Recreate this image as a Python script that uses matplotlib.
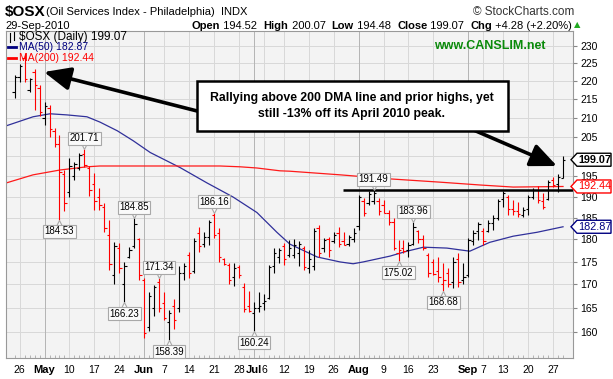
import matplotlib
matplotlib.use("Agg")
import matplotlib.pyplot as plt
import numpy as np
import pandas as pd
from matplotlib import font_manager
from matplotlib.patches import Polygon, Rectangle
from matplotlib.transforms import IdentityTransform, offset_copy
from matplotlib.ticker import NullLocator

plt.rcParams['font.family'] = ['Liberation Sans', 'DejaVu Sans']
installed = {f.name for f in font_manager.fontManager.ttflist}
NARROW = 'Liberation Sans Narrow' in installed

# trading days shown on the chart
holidays = ['2010-05-31', '2010-07-05', '2010-09-06']
dates = pd.bdate_range('2010-04-23', '2010-09-29', freq='C', holidays=holidays)

opens = [217.0, 221.0, 226.5, 217.5, 222.5, 218.0, 210.0, 212.5, 206.5, 203.0,
         195.5, 191.0, 195.0, 197.0, 200.5, 197.0, 193.0, 190.0, 187.5, 181.0,
         172.0, 178.0, 170.0, 176.0, 178.5, 180.0, 171.0, 161.0, 165.0, 170.5,
         166.0, 162.0, 165.5, 165.0, 172.5, 176.5, 173.0, 181.5, 179.0, 180.5,
         185.5, 181.5, 175.5, 174.3, 171.5, 173.8, 169.5, 165.5, 164.0, 165.0,
         166.0, 167.0, 174.0, 176.0, 178.5, 176.5, 176.5, 177.0, 178.0, 173.5,
         174.0, 182.5, 178.0, 180.0, 179.5, 181.5, 179.5, 179.0, 180.0, 183.0,
         189.0, 188.5, 189.0, 189.0, 188.0, 186.0, 184.0, 177.0, 178.0, 177.5,
         179.0, 181.8, 180.0, 176.5, 175.0, 173.0, 170.0, 172.5, 170.5, 175.5,
         171.0, 172.0, 179.5, 182.0, 182.0, 182.0, 183.8, 185.0, 189.5, 190.0,
         187.0, 186.5, 185.5, 187.0, 190.0, 191.5, 189.0, 189.5, 194.0, 193.0,
         194.52]
highs = [221.7, 224.8, 228.0, 220.8, 223.2, 218.8, 214.1, 213.3, 207.2, 205.4,
         196.5, 199.5, 198.5, 200.8, 201.71, 197.5, 195.8, 192.1, 188.4, 184.5,
         179.4, 179.2, 175.0, 178.3, 184.85, 180.4, 171.4, 168.3, 169.9, 171.34,
         168.3, 164.5, 166.8, 174.0, 174.7, 177.2, 180.4, 182.8, 181.7, 184.5,
         186.16, 182.6, 175.8, 174.7, 174.7, 174.2, 170.4, 168.5, 166.2, 168.3,
         168.0, 174.2, 178.0, 178.0, 179.2, 179.9, 180.0, 179.5, 178.5, 177.6,
         182.6, 183.3, 180.4, 180.6, 181.7, 182.8, 181.7, 181.0, 182.6, 190.4,
         189.7, 191.3, 191.49, 189.7, 189.2, 186.8, 185.0, 179.9, 179.9, 179.4,
         183.96, 182.2, 181.0, 176.8, 175.5, 176.0, 174.7, 173.6, 176.0, 176.8,
         174.7, 180.4, 182.2, 184.0, 182.6, 184.5, 185.6, 189.5, 191.3, 190.4,
         189.2, 188.8, 187.5, 190.4, 192.1, 192.5, 190.8, 194.0, 194.7, 195.6,
         200.07]
lows = [215.2, 219.7, 219.7, 216.9, 212.0, 210.3, 207.9, 205.0, 202.4, 184.53,
        186.6, 190.0, 194.0, 196.5, 197.2, 190.2, 186.8, 186.8, 181.7, 173.2,
        170.0, 172.5, 166.23, 175.7, 178.0, 171.0, 158.9, 160.3, 163.3, 164.1,
        162.6, 158.39, 160.6, 164.1, 171.0, 171.4, 172.5, 177.2, 178.3, 178.8,
        180.4, 175.0, 174.2, 170.0, 169.6, 171.4, 164.1, 164.1, 160.24, 164.2,
        164.5, 166.8, 172.5, 174.7, 174.2, 176.0, 175.8, 174.0, 173.2, 172.5,
        173.2, 176.0, 177.2, 176.0, 179.2, 178.3, 178.6, 178.4, 179.4, 182.2,
        185.4, 188.0, 188.2, 185.6, 186.0, 183.3, 177.6, 175.02, 177.0, 176.0,
        178.8, 179.2, 177.6, 171.6, 172.0, 170.6, 168.68, 169.4, 169.2, 169.4,
        170.0, 171.6, 178.8, 179.9, 178.8, 181.7, 182.2, 184.5, 187.5, 185.6,
        185.6, 185.2, 185.2, 185.6, 189.5, 188.5, 187.0, 189.2, 192.3, 191.1,
        194.48]
closes = [221.0, 224.3, 220.5, 220.6, 218.8, 211.5, 213.0, 207.0, 203.0, 196.0,
          188.5, 197.5, 198.0, 200.2, 197.8, 191.5, 189.0, 188.0, 182.5, 174.5,
          178.5, 173.5, 174.0, 177.5, 183.5, 172.0, 159.8, 167.5, 169.5, 165.0,
          163.0, 164.0, 162.5, 172.5, 174.0, 172.5, 179.5, 178.5, 180.5, 184.0,
          181.0, 176.0, 174.5, 171.0, 173.5, 172.0, 164.8, 164.3, 165.0, 165.5,
          166.5, 173.8, 177.0, 177.5, 175.5, 178.0, 178.8, 179.0, 173.8, 175.5,
          182.0, 177.0, 179.8, 177.5, 181.0, 179.0, 178.8, 180.5, 181.5, 190.0,
          186.0, 190.5, 190.8, 186.5, 186.2, 184.0, 178.0, 177.5, 177.4, 178.8,
          182.8, 180.0, 178.0, 172.5, 172.2, 171.5, 171.0, 170.0, 175.0, 170.5,
          171.5, 179.8, 181.5, 183.5, 179.5, 183.8, 184.8, 189.0, 190.8, 187.0,
          186.5, 185.8, 186.8, 190.0, 191.5, 189.2, 187.5, 193.5, 192.8, 194.79,
          199.07]

# moving averages (bar position, value)
ma50_pos = [-1.7, 3.7, 7.1, 10.5, 14.5, 17.1, 20.6, 23.8, 27.2, 33.2, 38.6, 43.8,
            48.6, 52.6, 55.2, 60.7, 65.3, 67.9, 69.9, 75.3, 78.7, 82.0, 86.7,
            91.3, 95.3, 100.0, 104.8, 110.0]
ma50_val = [207.8, 210.2, 211.0, 210.7, 210.2, 208.8, 206.5, 203.9, 200.9, 197.1,
            193.3, 189.9, 186.2, 181.6, 178.9, 176.0, 174.9, 174.5, 174.9, 176.2,
            177.3, 178.2, 178.0, 177.3, 179.3, 180.7, 181.6, 182.87]
ma200_pos = [-1.7, 3.7, 9.1, 14.5, 17.1, 41.2, 45.2, 48.6, 53.2, 55.2, 65.3,
             75.3, 85.3, 93.4, 100.0, 110.0]
ma200_val = [193.3, 195.3, 196.5, 197.3, 197.5, 197.5, 197.3, 197.0, 196.3, 196.2,
             195.3, 194.3, 193.5, 192.8, 192.3, 192.44]

tick_dates = ['2010-04-26', '2010-05-03', '2010-05-10', '2010-05-17', '2010-05-24',
              '2010-06-01', '2010-06-07', '2010-06-14', '2010-06-21', '2010-06-28',
              '2010-07-01', '2010-07-06', '2010-07-12', '2010-07-19', '2010-07-26',
              '2010-08-02', '2010-08-09', '2010-08-16', '2010-08-23', '2010-09-01',
              '2010-09-07', '2010-09-13', '2010-09-20', '2010-09-27']
tick_labels = ['26', 'May', '10', '17', '24', 'Jun', '7', '14', '21', '28', 'Jul',
               '6', '12', '19', '26', 'Aug', '9', '16', '23', 'Sep', '7', '13', '20', '27']
months = ['May', 'Jun', 'Jul', 'Aug', 'Sep']

high_labels = [201.71, 184.85, 171.34, 186.16, 191.49, 183.96]
low_labels = [184.53, 166.23, 158.39, 160.24, 175.02, 168.68]

resistance = 191.49
resistance_from = 65.8
last_close, last_ma50, last_ma200 = 199.07, 182.87, 192.44

assert len(dates) == len(opens) == len(highs) == len(lows) == len(closes)

W, H = 613, 379
fig = plt.figure(figsize=(W / 100, H / 100), dpi=100)
ax = fig.add_axes([6 / W, (H - 358) / H, 567 / W, 327 / H])
ax.set_facecolor('#f3f3f3')
ax.set_yscale('log')
ax.set_ylim(154.87, 234.32)
ax.set_xlim(-1.73, 112.0)

yticks = list(range(160, 231, 5))
# the 200 label sits under the last-close flag in the original
ax.set_yticks(yticks, ['' if t == 200 else str(t) for t in yticks])
ax.yaxis.set_minor_locator(NullLocator())
ax.yaxis.tick_right()
ax.tick_params(axis='y', length=3, pad=2, labelsize=7.5, color='#888888')

tick_pos = [dates.get_loc(pd.Timestamp(d)) for d in tick_dates]
ax.set_xticks(tick_pos, tick_labels)
ax.set_xticks(np.arange(len(dates)), minor=True)
ax.tick_params(axis='x', which='major', length=0, pad=5, labelsize=7.5)
ax.tick_params(axis='x', which='minor', length=2, direction='in', color='#aaaaaa')
for lab in ax.get_xticklabels():
    if lab.get_text() in months:
        lab.set_fontweight('bold')
        lab.set_fontsize(8)

for s in ax.spines.values():
    s.set_color('#999999')
    s.set_linewidth(0.8)

# grid
for t in yticks:
    ax.axhline(t, color='#d8d8d8', lw=0.7, zorder=0)
for p, lab in zip(tick_pos, tick_labels):
    ax.axvline(p, color='#b4b4b4' if lab in months else '#d8d8d8', lw=0.7, zorder=0)

# OHLC bars
x = np.arange(len(dates))
cl = np.array(closes)
colors = ['black'] + ['black' if cl[i] >= cl[i - 1] else 'red' for i in range(1, len(cl))]
ax.vlines(x, lows, highs, colors=colors, lw=0.8, zorder=3)
ax.hlines(opens, x - 0.45, x, colors=colors, lw=0.8, zorder=3)
ax.hlines(closes, x, x + 0.45, colors=colors, lw=0.8, zorder=3)

# moving averages
ax.plot(ma50_pos, ma50_val, color='#30309a', lw=0.9, zorder=2)
ax.plot(ma200_pos, ma200_val, color='#ff1a1a', lw=0.9, zorder=2)

# prior highs line
ax.hlines(resistance, resistance_from, 112.0, color='black', lw=1.8, zorder=4)

# swing high / low labels
lab_box = dict(boxstyle='square,pad=0.15', fc='#fafafa', ec='#a8a8a8', lw=0.8)
up3 = offset_copy(ax.transData, fig=fig, x=0, y=3, units='dots')
dn3 = offset_copy(ax.transData, fig=fig, x=0, y=-3, units='dots')
for v in high_labels:
    p = highs.index(v)
    ax.plot([p], [v], marker='v', ms=5, mfc='#fafafa', mec='#a8a8a8', mew=0.8,
            transform=up3, zorder=5)
    ax.annotate(f'{v:.2f}', xy=(p, v), xytext=(0, 11), textcoords='offset pixels',
                ha='center', va='center', fontsize=7, bbox=lab_box, zorder=6)
for v in low_labels:
    p = lows.index(v)
    ax.plot([p], [v], marker='^', ms=5, mfc='#fafafa', mec='#a8a8a8', mew=0.8,
            transform=dn3, zorder=5)
    ax.annotate(f'{v:.2f}', xy=(p, v), xytext=(0, -11.5), textcoords='offset pixels',
                ha='center', va='center', fontsize=7, bbox=lab_box, zorder=6)

px = IdentityTransform()


def ftext(xp, yp, s, **kw):
    # text placed by image pixel coordinates (origin top-left)
    return fig.text(xp, H - yp, s, transform=px, parse_math=False, **kw)


# header
ftext(5, 12, '$OSX', fontsize=11, fontweight='bold', va='center')
ftext(46, 12, '(Oil Services Index - Philadelphia)  INDX', fontsize=8, va='center')
ftext(574, 12, '\u00a9 StockCharts.com', fontsize=8.5, va='center', ha='right', color='#333333')
ftext(5, 26, '29-Sep-2010', fontsize=8, va='center')

renderer = fig.canvas.get_renderer()
parts = [('Open', 'bold'), (' 194.52  ', 'normal'), ('High', 'bold'), (' 200.07  ', 'normal'),
         ('Low', 'bold'), (' 194.48  ', 'normal'), ('Close', 'bold'), (' 199.07  ', 'normal'),
         ('Chg', 'bold'), (' +4.28 (+2.20%)', 'normal')]
xc = 192
for s, w in parts:
    t = ftext(xc, 26, s, fontsize=8, fontweight=w, va='center')
    xc += t.get_window_extent(renderer).width
ftext(xc + 2, 25, '\u25b2', fontsize=6, color='#22aa22', va='center', family='DejaVu Sans')

# legend inside the plot
ftext(19, 37, '$OSX (Daily) 199.07', fontsize=8.5, va='center')
fig.add_artist(plt.Line2D([10, 10], [H - 33, H - 42], transform=px, color='black', lw=0.8))
fig.add_artist(plt.Line2D([14, 14], [H - 32, H - 40], transform=px, color='black', lw=0.8))
fig.add_artist(plt.Line2D([8, 16], [H - 47, H - 47], transform=px, color='#000080', lw=2))
ftext(19, 47, 'MA(50) 182.87', fontsize=7.5, va='center', color='#000080')
fig.add_artist(plt.Line2D([8, 16], [H - 58, H - 58], transform=px, color='red', lw=2))
ftext(19, 58, 'MA(200) 192.44', fontsize=7.5, va='center', color='red')

if NARROW:
    ftext(490, 46, 'www.CANSLIM.net', fontsize=10.5, fontweight='bold', color='#0a8a0a',
          ha='center', va='center', family=['Liberation Sans Narrow', 'Liberation Sans'])
else:
    ftext(490, 46, 'www.CANSLIM.net', fontsize=9, fontweight='bold', color='#0a8a0a',
          ha='center', va='center')

# call-out box and arrows
head = '-|>,head_length=1.6,head_width=0.7'
ax.annotate('', xy=(44, H - 72), xycoords='figure pixels', xytext=(205, H - 113),
            textcoords='figure pixels',
            arrowprops=dict(arrowstyle=head, lw=2.6, color='black', shrinkA=0, shrinkB=0))
ax.annotate('', xy=(557, H - 166), xycoords='figure pixels', xytext=(462, H - 125),
            textcoords='figure pixels',
            arrowprops=dict(arrowstyle=head, lw=2.6, color='black', shrinkA=0, shrinkB=0))
fig.add_artist(Rectangle((197, H - 131), 311, 50, transform=px, fc='white', ec='black',
                         lw=1.8, zorder=5))
note = 'Rallying above 200 DMA line and prior highs, yet\nstill -13% off its April 2010 peak.'
if NARROW:
    ftext(352, 106, note, fontsize=9.5, fontweight='bold', ha='center', va='center',
          linespacing=1.45, zorder=6, family=['Liberation Sans Narrow', 'Liberation Sans'])
else:
    ftext(352, 106, note, fontsize=8.8, fontweight='bold', ha='center', va='center',
          linespacing=1.4, zorder=6)


# value flags on the right axis
def flag(v, s, fg, bold=False):
    yd = ax.transData.transform((0, v))[1]
    x0, x1, h = 571, 611, 6.5
    fig.add_artist(Polygon([(x0, yd), (x0 + 6, yd + h), (x1, yd + h), (x1, yd - h), (x0 + 6, yd - h)],
                           closed=True, transform=px, fc='white', ec=fg, lw=1, zorder=7))
    fig.text(x0 + 7, yd, s, transform=px, fontsize=7.8, color=fg, va='center', ha='left',
             fontweight='bold' if bold else 'normal', zorder=8)


flag(last_close, f'{last_close:.2f}', 'black', bold=True)
flag(last_ma200, f'{last_ma200:.2f}', 'red')
flag(last_ma50, f'{last_ma50:.2f}', '#000080')

fig.savefig('out.png', dpi=100)
